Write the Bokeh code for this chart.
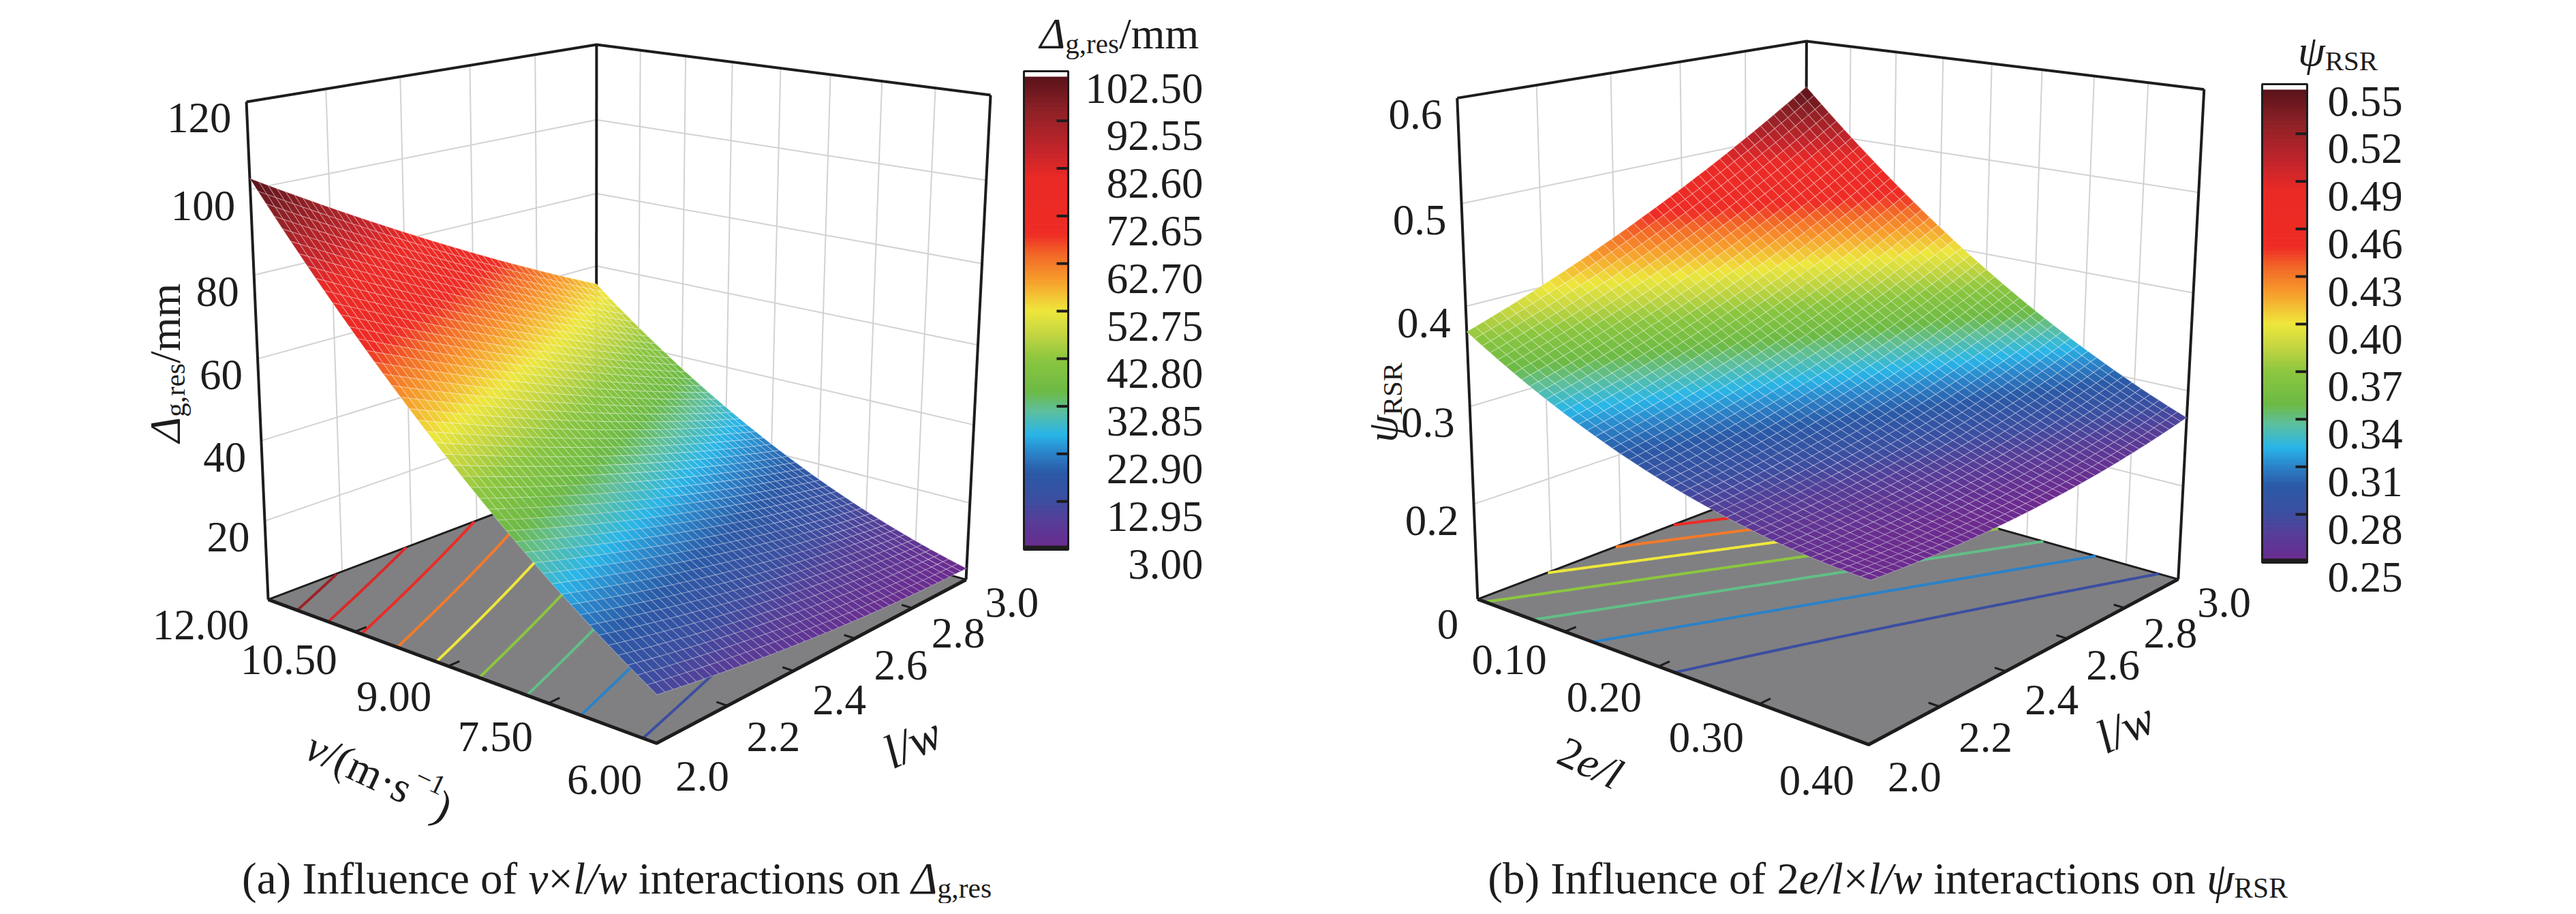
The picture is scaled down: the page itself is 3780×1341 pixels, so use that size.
import glob
import numpy as np
from bokeh.plotting import figure
from bokeh.models import Range1d
from bokeh.embed import file_html
from bokeh.resources import INLINE
from bokeh.core.properties import value

# ======================= DATA =======================
# (a) Δg,res [mm] at the grid nodes  (rows: v ticks, cols: l/w ticks)
v_ticks = [12.00, 10.50, 9.00, 7.50, 6.00]
v_labels = ["12.00", "10.50", "9.00", "7.50", "6.00"]
lw_ticks = [2.0, 2.2, 2.4, 2.6, 2.8, 3.0]
lw_labels = ["2.0", "2.2", "2.4", "2.6", "2.8", "3.0"]
delta_g_res = [
    [102.5, 91.9, 81.8, 72.3, 63.4, 55.0],   # v = 12.00
    [74.5, 65.9, 57.8, 50.2, 43.2, 36.8],    # v = 10.50
    [49.9, 43.2, 37.1, 31.5, 26.6, 22.1],    # v = 9.00
    [28.7, 24.0, 19.9, 16.3, 13.3, 10.8],    # v = 7.50
    [11.0, 8.2, 6.1, 4.5, 3.4, 3.0],         # v = 6.00
]
delta_z_ticks = [20, 40, 60, 80, 100, 120]
delta_z_labels = ["20", "40", "60", "80", "100", "120"]
delta_cbar = [102.50, 92.55, 82.60, 72.65, 62.70, 52.75, 42.80, 32.85, 22.90, 12.95, 3.00]

# (b) ψRSR at the grid nodes  (rows: 2e/l ticks, cols: l/w ticks)
e_ticks = [0.0, 0.10, 0.20, 0.30, 0.40]
e_labels = ["0", "0.10", "0.20", "0.30", "0.40"]
psi_rsr = [
    [0.375, 0.402, 0.433, 0.468, 0.507, 0.550],   # 2e/l = 0
    [0.323, 0.342, 0.366, 0.393, 0.425, 0.460],   # 2e/l = 0.10
    [0.285, 0.297, 0.312, 0.332, 0.356, 0.383],   # 2e/l = 0.20
    [0.261, 0.265, 0.273, 0.285, 0.301, 0.321],   # 2e/l = 0.30
    [0.250, 0.246, 0.247, 0.251, 0.260, 0.272],   # 2e/l = 0.40
]
psi_z_ticks = [0.2, 0.3, 0.4, 0.5, 0.6]
psi_z_labels = ["0.2", "0.3", "0.4", "0.5", "0.6"]
psi_cbar = [0.55, 0.52, 0.49, 0.46, 0.43, 0.40, 0.37, 0.34, 0.31, 0.28, 0.25]

# ======================= STYLE / LAYOUT =======================
FONT = "Liberation Serif"
INK = "#1e1c1d"
FLOOR = "#808082"
GRID = "#d2d2d2"
CMAP_STOPS = [(0.00, "#6c2b8f"), (0.06, "#553e98"), (0.10, "#3c4ea0"), (0.16, "#2a5aa7"),
              (0.20, "#2b82c8"), (0.24, "#29b6e8"), (0.29, "#5ebf9c"), (0.33, "#6cba45"),
              (0.40, "#8cc63f"), (0.45, "#c3d541"), (0.50, "#eee73c"), (0.57, "#f7972b"),
              (0.62, "#f26627"), (0.66, "#ee2c25"), (0.78, "#ea2a26"), (0.83, "#c8252b"),
              (0.92, "#8e2126"), (1.00, "#55121a")]

# screen positions of six corners of each 3D box: (X, Y, Z) normalised -> pixel
BOX_A = [((0, 0, 0), (401, 887)), ((1, 0, 0), (971, 1098)), ((1, 1, 0), (1425, 858)),
         ((0, 0, 1), (369, 157)), ((0, 1, 1), (883, 73)), ((1, 1, 1), (1461, 147))]
BOX_B = [((0, 0, 0), (2176, 887)), ((1, 0, 0), (2749, 1100)), ((1, 1, 0), (3204, 857)),
         ((0, 0, 1), (2146, 151)), ((0, 1, 1), (2658, 68)), ((1, 1, 1), (3242, 139))]

W_PX, H_PX = 3764, 1325
p = figure(width=W_PX, height=H_PX, x_range=Range1d(8, 8 + W_PX), y_range=Range1d(8 + H_PX, 8),
           output_backend="svg", toolbar_location=None, x_axis_location=None,
           y_axis_location=None, min_border=0)
p.grid.visible = False
p.outline_line_color = None
p.background_fill_color = "white"
p.border_fill_color = "white"

# ---------------- helpers ----------------
_fc = {}


def _font(italic, size):
    key = (italic, int(round(size)))
    if key in _fc:
        return _fc[key]
    f = None
    try:
        from PIL import ImageFont
        name = "LiberationSerif-Italic.ttf" if italic else "LiberationSerif-Regular.ttf"
        paths = glob.glob("/usr/share/fonts/**/" + name, recursive=True) + \
            glob.glob("/usr/local/share/fonts/**/" + name, recursive=True)
        f = ImageFont.truetype(paths[0] if paths else name, key[1])
    except Exception:
        f = None
    _fc[key] = f
    return f


def text_w(s, italic, size):
    f = _font(italic, size)
    if f is None:
        return 0.48 * size * len(s)
    return f.getlength(s)


def rich(x, y, pieces, size, angle=0.0, align="left"):
    items = []
    for t, it, kind in pieces:
        fs = size if kind == "n" else size * 0.64
        dy = 0.0 if kind == "n" else (0.22 * size if kind == "sub" else -0.40 * size)
        items.append((t, it, fs, dy, text_w(t, it, fs)))
    tot = sum(i[4] for i in items)
    ca, sa = np.cos(angle), np.sin(angle)
    off = {"left": 0.0, "center": -tot / 2.0, "right": -tot}[align]
    for t, it, fs, dy, w in items:
        core = t.strip(" ")
        lead = text_w(" " * (len(t) - len(t.lstrip(" "))), it, fs) if t.startswith(" ") else 0.0
        o = off + lead
        px = x + ca * o + sa * dy
        py = y - sa * o + ca * dy
        if core:
            p.text(x=[px], y=[py], text=[core], angle=angle, text_font=value(FONT),
                   text_font_size="%.1fpx" % fs, text_font_style="italic" if it else "normal",
                   text_align="left", text_baseline="alphabetic", text_color=INK)
        off += w


def hex2rgb(h):
    return int(h[1:3], 16), int(h[3:5], 16), int(h[5:7], 16)


def cmap(t):
    t = float(np.clip(t, 0.0, 1.0))
    for k in range(len(CMAP_STOPS) - 1):
        t0, c0 = CMAP_STOPS[k]
        t1, c1 = CMAP_STOPS[k + 1]
        if t <= t1:
            a = (t - t0) / (t1 - t0)
            r0, g0, b0 = hex2rgb(c0)
            r1, g1, b1 = hex2rgb(c1)
            return "#%02x%02x%02x" % (round(r0 + (r1 - r0) * a), round(g0 + (g1 - g0) * a),
                                      round(b0 + (b1 - b0) * a))
    return CMAP_STOPS[-1][1]


def solve_camera(corr):
    rows, rhs = [], []
    for (X, Y, Z), (u, v) in corr:
        rows.append([X, Y, Z, 1, 0, 0, 0, 0, -u * X, -u * Y, -u * Z])
        rhs.append(u)
        rows.append([0, 0, 0, 0, X, Y, Z, 1, -v * X, -v * Y, -v * Z])
        rhs.append(v)
    sol = np.linalg.lstsq(np.array(rows, float), np.array(rhs, float), rcond=None)[0]
    return np.append(sol, 1.0).reshape(3, 4)


def rsm_fit(xf, yf, grid):
    # second-order response surface through the values read at the grid nodes
    X, Y = np.meshgrid(np.asarray(xf, float), np.asarray(yf, float), indexing="ij")
    A = np.column_stack([np.ones(X.size), X.ravel(), Y.ravel(), (X * Y).ravel(),
                         (X ** 2).ravel(), (Y ** 2).ravel()])
    c = np.linalg.lstsq(A, np.asarray(grid, float).ravel(), rcond=None)[0]
    return lambda x, y: c[0] + c[1] * x + c[2] * y + c[3] * x * y + c[4] * x * x + c[5] * y * y


def floor_contour(f, level, nrow=160, ncol=500):
    xs = np.linspace(0, 1, ncol)
    segs, cur = [], []
    for yv in np.linspace(0, 1, nrow):
        s = f(xs, yv) - level
        k = np.where(s[:-1] * s[1:] <= 0)[0]
        if len(k):
            i = k[0]
            den = s[i] - s[i + 1]
            t = s[i] / den if den != 0 else 0.0
            cur.append((xs[i] + t * (xs[i + 1] - xs[i]), yv))
        elif cur:
            segs.append(cur)
            cur = []
    if cur:
        segs.append(cur)
    return [sg for sg in segs if len(sg) > 1]


def draw_panel(c):
    P = solve_camera(c["box"])

    def proj(X, Y, Z):
        X = np.asarray(X, float)
        Y = np.asarray(Y, float)
        Z = np.asarray(Z, float)
        X, Y, Z = np.broadcast_arrays(X, Y, Z)
        h = P @ np.vstack([X.ravel(), Y.ravel(), Z.ravel(), np.ones(X.size)])
        return (h[0] / h[2]).reshape(X.shape), (h[1] / h[2]).reshape(X.shape), h[2].reshape(X.shape)

    def path(pts):
        a = np.array(pts, float).T
        x, y, _ = proj(a[0], a[1], a[2])
        return list(x), list(y)

    xf = [c["xfrac"](t) for t in c["xt"]]
    yf = [(t - 2.0) / 1.0 for t in lw_ticks]
    zlo, zhi = c["zlo"], c["zhi"]
    zn = lambda val: (val - zlo) / (zhi - zlo)
    f = rsm_fit(xf, yf, c["grid"])
    cmin, cmax = c["cb"][-1], c["cb"][0]

    # wall grid lines
    gx, gy = [], []
    for yv in yf[1:-1]:
        x, y = path([(0, yv, 0), (0, yv, 1)])
        gx.append(x); gy.append(y)
    for k in range(1, 8):
        x, y = path([(k / 8.0, 1, 0), (k / 8.0, 1, 1)])
        gx.append(x); gy.append(y)
    for zt in c["zt"][:-1]:
        x, y = path([(0, 0, zn(zt)), (0, 1, zn(zt)), (1, 1, zn(zt))])
        gx.append(x); gy.append(y)
    p.multi_line(gx, gy, line_color=GRID, line_width=2)

    # floor
    fx, fy = path([(0, 0, 0), (1, 0, 0), (1, 1, 0), (0, 1, 0)])
    p.patch(fx, fy, fill_color=FLOOR, line_color=INK, line_width=3)

    # floor contour lines (projection of the surface levels)
    for lev in c["cb"][1:-1]:
        cx, cy = [], []
        for sg in floor_contour(f, lev):
            a = np.array(sg)
            x, y, _ = proj(a[:, 0], a[:, 1], np.zeros(len(a)))
            cx.append(list(x)); cy.append(list(y))
        if cx:
            p.multi_line(cx, cy, line_color=cmap((lev - cmin) / (cmax - cmin)), line_width=4)

    # box edges behind the surface
    ex, ey = [], []
    for pts in ([(0, 0, 0), (0, 0, 1)], [(0, 1, 0), (0, 1, 1)], [(1, 1, 0), (1, 1, 1)],
                [(0, 0, 1), (0, 1, 1), (1, 1, 1)]):
        x, y = path(pts)
        ex.append(x); ey.append(y)
    p.multi_line(ex, ey, line_color=INK, line_width=4)

    # surface (painter's algorithm)
    n = 46
    g = np.linspace(0, 1, n + 1)
    U, V = np.meshgrid(g, g, indexing="ij")
    val = f(U, V)
    SX, SY, WD = proj(U, V, zn(val))
    wf = proj(1, 0, 0)[2]
    wb = proj(0, 1, 1)[2]
    sgn = 1.0 if float(wb) > float(wf) else -1.0
    xs_l, ys_l, cols, dep = [], [], [], []
    for i in range(n):
        for j in range(n):
            xs_l.append([SX[i, j], SX[i + 1, j], SX[i + 1, j + 1], SX[i, j + 1]])
            ys_l.append([SY[i, j], SY[i + 1, j], SY[i + 1, j + 1], SY[i, j + 1]])
            m = val[i:i + 2, j:j + 2].mean()
            cols.append(cmap((m - cmin) / (cmax - cmin)))
            dep.append(sgn * WD[i:i + 2, j:j + 2].mean())
    order = np.argsort(-np.array(dep))
    p.patches([xs_l[k] for k in order], [ys_l[k] for k in order],
              fill_color=[cols[k] for k in order], line_color="white", line_alpha=0.28,
              line_width=1.2)

    # front floor edges
    x, y = path([(0, 0, 0), (1, 0, 0), (1, 1, 0)])
    p.line(x, y, line_color=INK, line_width=5)

    # small ticks on the front floor edges
    tx, ty = [], []
    for xv in xf[1:-1]:
        x, y = path([(xv, 0, 0), (xv, 0.03, 0)])
        tx.append(x); ty.append(y)
    for yv in yf[1:-1]:
        x, y = path([(1, yv, 0), (0.975, yv, 0)])
        tx.append(x); ty.append(y)
    p.multi_line(tx, ty, line_color=INK, line_width=3)

    # tick labels
    for xv, lab in zip(xf, c["xlabels"]):
        x, y, _ = proj(xv, 0, 0)
        rich(float(x) - 28 + 7 * xv, float(y) + 37 + 16 * xv, [(lab, False, "n")], 63, 0, "right")
    for yv, lab in zip(yf, lw_labels):
        x, y, _ = proj(1, yv, 0)
        rich(float(x) + 28, float(y) + 48 - 14 * yv, [(lab, False, "n")], 63, 0, "left")
    for zt, lab in zip(c["zt"], c["zlabels"]):
        x, y, _ = proj(0, 0, zn(zt))
        rich(float(x) - 22, float(y) + 24, [(lab, False, "n")], 63, 0, "right")

    # axis titles
    rich(*c["ztitle_at"], c["ztitle"], 64, np.pi / 2, "center")
    rich(*c["xtitle_at"], c["xtitle"], 64, np.radians(-25), "center")
    rich(*c["ytitle_at"], [("l/w", True, "n")], 70, np.radians(25), "center")

    # colour bar
    x0, x1, yt, yb = c["cbar_box"]
    nb = 200
    edges = np.linspace(yt, yb, nb + 1)
    mids = cmax - (np.arange(nb) + 0.5) / nb * (cmax - cmin)
    bc = [cmap((m - cmin) / (cmax - cmin)) for m in mids]
    p.quad(left=x0, right=x1, top=edges[:-1], bottom=edges[1:], fill_color=bc, line_color=bc,
           line_width=1)
    p.quad(left=x0, right=x1, top=yt - 1, bottom=yt + 5, fill_color="white", line_color=None)
    p.quad(left=x0, right=x1, top=yb - 5, bottom=yb + 1, fill_color=INK, line_color=None)
    p.patch([x0, x1, x1, x0], [yt - 3, yt - 3, yb + 1, yb + 1], fill_color=None, line_color=INK,
            line_width=3)
    step = (yb - yt) / 10.0
    kx, ky = [], []
    for i in range(1, 10):
        kx.append([x1 - 17, x1]); ky.append([yt + i * step, yt + i * step])
    p.multi_line(kx, ky, line_color=INK, line_width=4)
    lx, la = c["cbar_lab"]
    for i, vlab in enumerate(c["cb"]):
        rich(lx, yt + i * step + 22, [("%.2f" % vlab, False, "n")], 63, 0, la)
    rich(*c["cbar_title_at"], c["ztitle"], 64, 0, "center")

    # caption
    rich(*c["caption_at"], c["caption"], 65, 0, "center")


panels = [
    dict(box=BOX_A, xt=v_ticks, xfrac=lambda v: (12.0 - v) / 6.0, xlabels=v_labels,
         grid=delta_g_res, zlo=0.0, zhi=120.0, zt=delta_z_ticks, zlabels=delta_z_labels,
         cb=delta_cbar,
         ztitle=[("Δ", True, "n"), ("g,res", False, "sub"), ("/mm", False, "n")],
         ztitle_at=(250, 540),
         xtitle=[("v", True, "n"), ("/(m·s", False, "n"), ("−1", False, "sup"), (")", False, "n")],
         xtitle_at=(564, 1147), ytitle_at=(1346, 1097),
         cbar_box=(1510, 1575, 115, 813), cbar_lab=(1773, "right"), cbar_title_at=(1650, 57),
         caption=[("(a) Influence of ", False, "n"), ("v", True, "n"), ("×", False, "n"),
                  ("l/w", True, "n"), (" interactions on ", False, "n"), ("Δ", True, "n"),
                  ("g,res", False, "sub")],
         caption_at=(913, 1296)),
    dict(box=BOX_B, xt=e_ticks, xfrac=lambda e: e / 0.4, xlabels=e_labels,
         grid=psi_rsr, zlo=0.1, zhi=0.6, zt=psi_z_ticks, zlabels=psi_z_labels, cb=psi_cbar,
         ztitle=[("ψ", True, "n"), ("RSR", False, "sub")],
         ztitle_at=(2036, 598),
         xtitle=[("2", False, "n"), ("e/l", True, "n")],
         xtitle_at=(2341, 1127), ytitle_at=(3126, 1075),
         cbar_box=(3327, 3393, 134, 832), cbar_lab=(3423, "left"), cbar_title_at=(3438, 82),
         caption=[("(b) Influence of 2", False, "n"), ("e/l", True, "n"), ("×", False, "n"),
                  ("l/w", True, "n"), (" interactions on ", False, "n"), ("ψ", True, "n"),
                  ("RSR", False, "sub")],
         caption_at=(2778, 1296)),
]

for cfg in panels:
    draw_panel(cfg)

open("out.html", "w").write(file_html(p, INLINE))
